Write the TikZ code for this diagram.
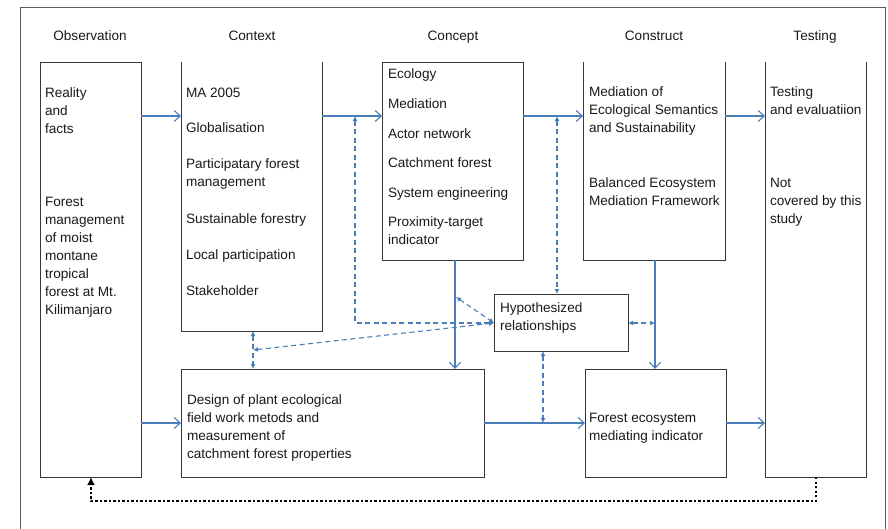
\documentclass[tikz,border=0pt]{standalone}
\usepackage{fontspec}
\setmainfont{Liberation Sans}
\usetikzlibrary{arrows.meta}
\definecolor{linkblue}{RGB}{74,126,187}
\definecolor{boxline}{RGB}{55,55,55}
\definecolor{frameline}{RGB}{90,90,90}
\begin{document}
\begin{tikzpicture}[x=1pt,y=-1pt,
  every node/.style={inner sep=0pt,outer sep=0pt},
  % multi-line texts are anchored at the baseline of their last line
  txt/.style={font=\fontsize{13.6}{18}\selectfont,align=left,anchor=base west,text=black!90},
  head/.style={font=\fontsize{13.6}{18}\selectfont,anchor=base,text=black!90},
  boxed/.style={draw=boxline,line width=1pt},
  flow/.style={draw=linkblue,line width=1.1pt,-{Straight Barb[length=6pt,width=11pt,line width=1.1pt]}},
  link/.style={draw=linkblue,line width=1.1pt,dash pattern=on 5pt off 3.5pt,
    {Latex[length=5pt,width=5pt]}-{Latex[length=5pt,width=5pt]}},
  loop/.style={draw=black,line width=2.6pt,dash pattern=on 2.3pt off 2.2pt,
    -{Latex[length=8pt,width=8pt]}}]
\useasboundingbox (0,0) rectangle (888,528);

% outer frame, running off the lower edge
\begin{scope}
  \clip (0,0) rectangle (888,528);
  \draw[frameline,line width=1pt] (20,540) -- (20,7) -- (885,7) -- (885,540);
\end{scope}

% column headings
\node[head] (hObs) at (90,40) {Observation};
\node[head] (hCtx) at (252,40) {Context};
\node[head] (hCpt) at (453,40) {Concept};
\node[head] (hCst) at (654,40) {Construct};
\node[head] (hTst) at (815,40) {Testing};

% boxes
\node[boxed,minimum width=101,minimum height=415] (obs) at (90.5,269.5) {};
\node[minimum width=141,minimum height=269] (ctx) at (251.5,196.5) {};
\node[boxed,minimum width=141,minimum height=198] (cpt) at (452.5,161) {};
\node[minimum width=142,minimum height=198] (cst) at (654,161) {};
\node[minimum width=101,minimum height=415] (tst) at (815.5,269.5) {};
\node[boxed,minimum width=134,minimum height=57] (hyp) at (561,322.5) {};
\node[boxed,minimum width=303,minimum height=108] (des) at (332.5,423) {};
\node[boxed,minimum width=141,minimum height=108] (fst) at (655.5,423) {};

% boxes whose top edge is left open
\draw[boxline,line width=1pt] (ctx.north west) -- (ctx.south west) -- (ctx.south east) -- (ctx.north east);
\draw[boxline,line width=1pt] (cst.north west) -- (cst.south west) -- (cst.south east) -- (cst.north east);
\draw[boxline,line width=1pt] (tst.north west) -- (tst.south west) -- (tst.south east) -- (tst.north east);

% box texts
\node[txt] (tObsA) at (45,133) {Reality\\and\\facts};
\node[txt] (tObsB) at (45,314) {Forest\\management\\of moist\\montane\\tropical\\forest at Mt.\\Kilimanjaro};
\node[txt] (tCtx1) at (186,97) {MA 2005};
\node[txt] (tCtx2) at (186,132) {Globalisation};
\node[txt] (tCtx3) at (186,186) {Participatary forest\\management};
\node[txt] (tCtx4) at (186,223) {Sustainable forestry};
\node[txt] (tCtx5) at (186,259) {Local participation};
\node[txt] (tCtx6) at (186,295) {Stakeholder};
\node[txt] (tCpt1) at (388,78) {Ecology};
\node[txt] (tCpt2) at (388,108) {Mediation};
\node[txt] (tCpt3) at (388,138) {Actor network};
\node[txt] (tCpt4) at (388,167) {Catchment forest};
\node[txt] (tCpt5) at (388,197) {System engineering};
\node[txt] (tCpt6) at (388,244) {Proximity-target\\indicator};
\node[txt] (tCstA) at (589,132) {Mediation of\\Ecological Semantics\\and Sustainability};
\node[txt] (tCstB) at (589,205) {Balanced Ecosystem\\Mediation Framework};
\node[txt] (tTstA) at (770,114) {Testing\\and evaluatiion};
\node[txt] (tTstB) at (770,223) {Not\\covered by this\\study};
\node[txt] (tHyp) at (500,330) {Hypothesized\\relationships};
\node[txt] (tDes) at (187,458) {Design of plant ecological\\field work metods and\\measurement of\\catchment forest properties};
\node[txt] (tFst) at (589,440) {Forest ecosystem\\mediating indicator};

% reference rows and columns for the connectors
\coordinate (rowA) at (0,116);
\coordinate (rowB) at (0,423);
\coordinate (rowH) at (0,323);
\coordinate (colC) at (455,0);
\coordinate (colK) at (655,0);

% main flow
\draw[flow] (obs.east |- rowA) -- (ctx.west |- rowA);
\draw[flow] (ctx.east |- rowA) -- (cpt.west |- rowA);
\draw[flow] (cpt.east |- rowA) -- (cst.west |- rowA);
\draw[flow] (cst.east |- rowA) -- (tst.west |- rowA);
\draw[flow] (obs.east |- rowB) -- (des.west |- rowB);
\draw[flow] (des.east |- rowB) -- (fst.west |- rowB);
\draw[flow] (fst.east |- rowB) -- (tst.west |- rowB);
\draw[flow] (cpt.south -| colC) -- (des.north -| colC);
\draw[flow] (cst.south -| colK) -- (fst.north -| colK);

% hypothesized relationships
\coordinate (pA) at (355,116);
\coordinate (pB) at (557,116);
\coordinate (pC) at (456,297);
\coordinate (pD) at (253,350);
\coordinate (pE) at (655,323);
\coordinate (pF) at (543,423);
\draw[link] (pA) -- (pA |- rowH) -- (hyp.west |- rowH);
\draw[link] (pB) -- (hyp.north -| pB);
\draw[link] (pC) -- (hyp.west |- rowH);
\draw[link] (pD) -- (hyp.west |- rowH);
\draw[link] (ctx.south -| pD) -- (des.north -| pD);
\draw[link] (hyp.east |- rowH) -- (pE);
\draw[link] (hyp.south -| pF) -- (pF);

% feedback loop from testing back to observation
\draw[loop] (tst.south -| 816,0) -- (816,501) -| (obs.south -| 91,0);
\end{tikzpicture}
\end{document}
